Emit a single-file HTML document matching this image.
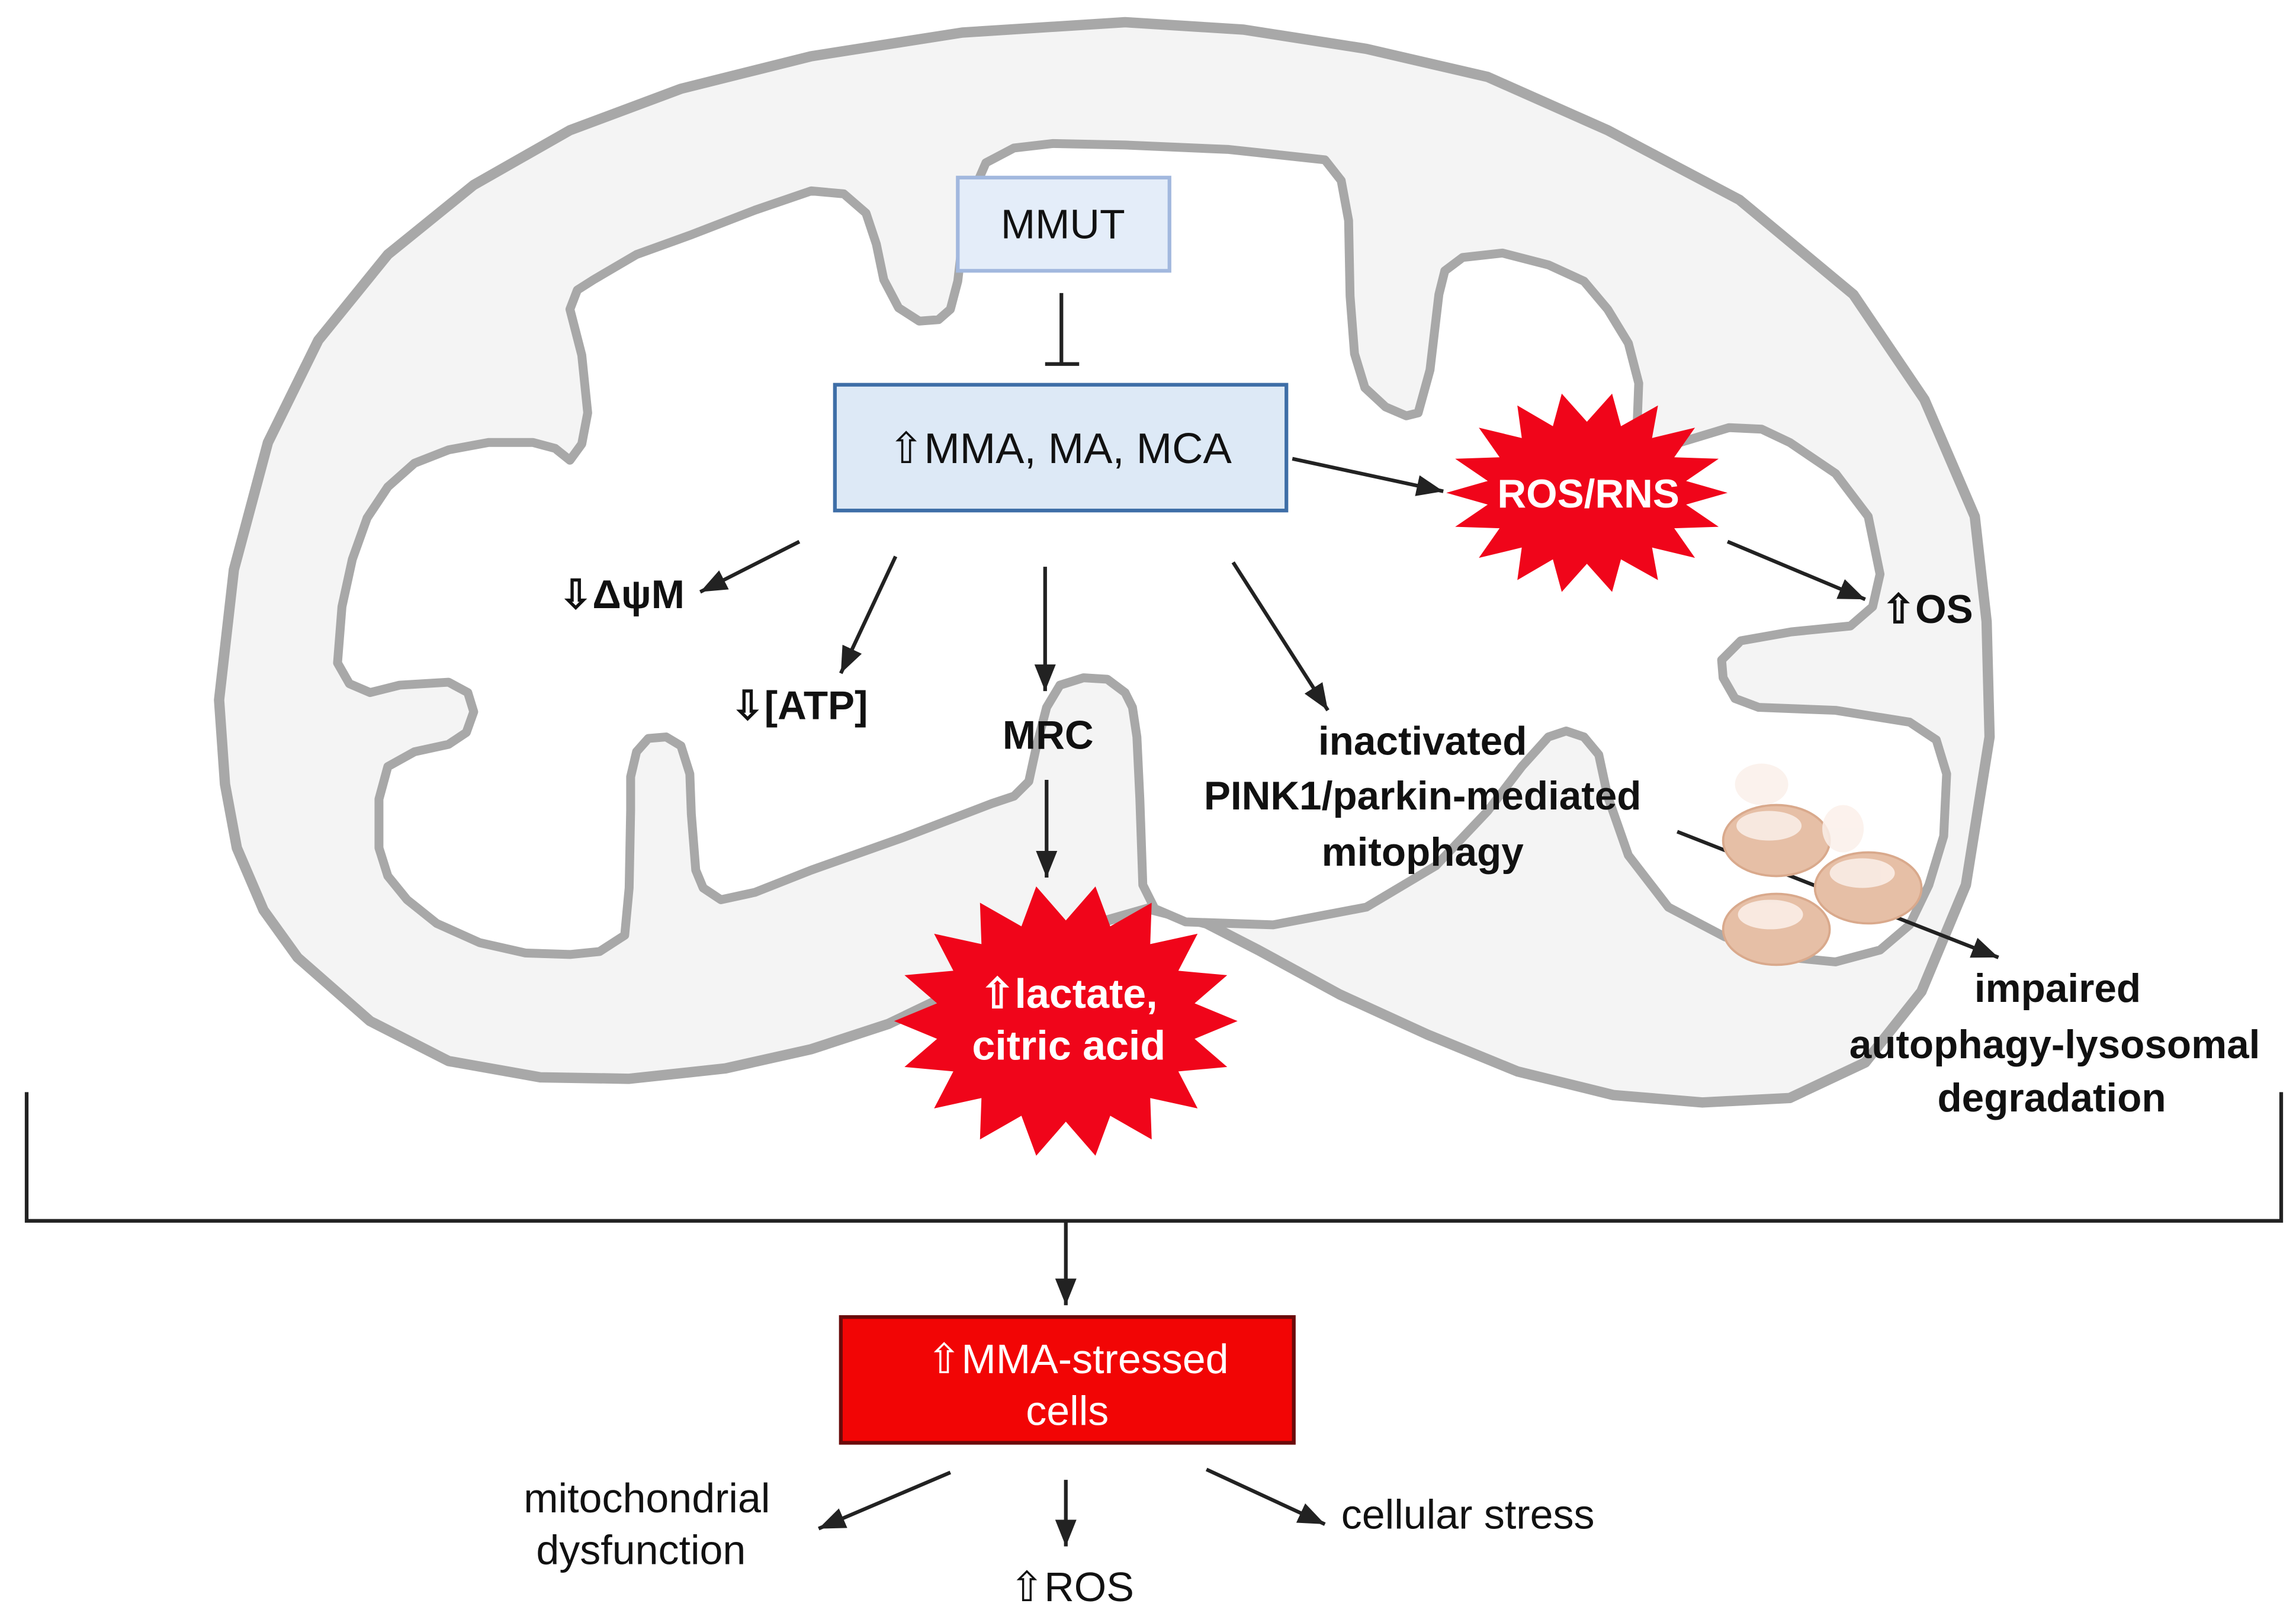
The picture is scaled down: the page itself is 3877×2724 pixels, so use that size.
<!DOCTYPE html>
<html><head><meta charset="utf-8"><style>
html,body{margin:0;padding:0;background:#fff;}
svg{display:block;}
text{font-family:"Liberation Sans",sans-serif;}
</style></head><body>
<svg width="3877" height="2724" viewBox="0 0 1551 1090" preserveAspectRatio="none" xmlns="http://www.w3.org/2000/svg">
<defs>
<marker id="ah" viewBox="0 0 10 10" refX="10" refY="5" markerWidth="18" markerHeight="18" markerUnits="userSpaceOnUse" orient="auto">
<path d="M0,1 L10,5 L0,9 z" fill="#222"/>
</marker>
</defs>
<rect width="1551" height="1090" fill="#fff"/>
<polygon fill="#f4f4f4" stroke="#a8a8a8" stroke-width="7" stroke-linejoin="round" points="148,473 152,530 160,573 178,615 201,647 250,690 303,717 365,728 425,729 490,722 548,709 600,692 650,668 690,645 720,630 776,614 815,624 850,642 905,672 964,699 1025,724 1090,740 1150,745 1209,742 1260,718 1298,670 1328,598 1344,498 1342,420 1334,349 1300,270 1252,199 1175,135 1086,88 1005,52 923,33 840,20 760,15 650,22 548,38 460,60 385,88 320,125 262,172 215,230 181,299 158,385"/>
<polygon fill="#ffffff" stroke="#a8a8a8" stroke-width="6" stroke-linejoin="round" points="228,448 231,410 238,378 248,350 262,329 280,313 303,304 330,299 360,299 375,303 385,311 393,300 397,279 393,240 385,209 390,196 401,189 430,172 466,159 510,142 548,129 570,131 585,144 592,165 597,189 607,208 621,217 634,216 642,209 647,190 650,164 656,133 666,110 685,100 711,97 760,98 830,101 895,108 906,122 911,149 912,200 915,239 922,262 936,275 950,281 958,279 966,250 972,199 976,183 988,174 1015,171 1046,179 1070,190 1086,209 1100,232 1107,259 1106,285 1103,299 1118,302 1135,299 1168,289 1190,290 1209,299 1240,320 1262,349 1270,388 1265,410 1250,423 1210,427 1176,433 1163,446 1164,458 1172,472 1188,478 1240,480 1290,488 1308,500 1315,523 1313,565 1303,598 1290,625 1270,642 1240,650 1209,647 1165,633 1127,613 1100,578 1086,538 1080,510 1070,498 1058,494 1046,498 1028,518 1005,548 970,585 923,613 860,625 801,623 780,614 772,598 770,540 768,498 765,478 760,468 748,459 732,458 716,463 707,478 700,505 695,528 685,538 670,543 610,566 548,588 510,603 487,608 475,600 470,588 467,550 466,523 460,504 450,498 438,499 430,508 426,525 426,548 425,600 422,632 405,643 385,645 355,644 324,637 295,624 275,608 262,592 256,573 256,540 262,518 280,508 303,503 315,495 320,481 316,468 303,461 270,463 250,468 236,462"/>

<!-- MMUT -->
<rect x="647" y="120" width="143" height="63" fill="#e4edf9" stroke="#a2b8de" stroke-width="2.5"/>
<text x="718" y="161" font-size="28" text-anchor="middle" fill="#111">MMUT</text>
<line x1="717" y1="198" x2="717" y2="246" stroke="#222" stroke-width="2.5"/>
<line x1="706" y1="246" x2="729" y2="246" stroke="#222" stroke-width="2.5"/>

<rect x="564" y="260" width="305" height="85" fill="#dde9f6" stroke="#3e6ea7" stroke-width="2.5"/>
<text x="716" y="313" font-size="29" text-anchor="middle" fill="#111">⇧MMA, MA, MCA</text>

<g stroke="#222" stroke-width="2.5" fill="none" marker-end="url(#ah)">
<line x1="540" y1="366" x2="473" y2="400"/>
<line x1="605" y1="376" x2="568" y2="455"/>
<line x1="706" y1="383" x2="706" y2="467"/>
<line x1="833" y1="380" x2="897" y2="480"/>
<line x1="873" y1="310" x2="975" y2="332"/>
<line x1="1167" y1="366" x2="1260" y2="405"/>
<line x1="707" y1="527" x2="707" y2="593"/>
<line x1="1133" y1="562" x2="1350" y2="647"/>
<line x1="720" y1="825" x2="720" y2="882"/>
<line x1="642" y1="995" x2="553" y2="1033"/>
<line x1="720" y1="1000" x2="720" y2="1045"/>
<line x1="815" y1="993" x2="895" y2="1030"/>
</g>

<polygon fill="#f0051a" points="1167,333 1139,341 1161,356 1131,357 1145,377 1116,370 1120,392 1095,378 1089,400 1072,381 1055,400 1049,378 1025,392 1028,370 999,377 1013,357 983,356 1005,341 977,333 1005,325 983,310 1013,309 999,289 1028,296 1025,274 1049,288 1055,266 1072,285 1089,266 1095,288 1120,274 1116,296 1145,289 1131,309 1161,310 1139,325"/>
<polygon fill="#f0051a" points="836,690 807,702 829,721 796,724 809,749 777,742 778,770 750,754 740,781 720,758 700,781 690,754 662,770 663,742 631,749 644,724 611,721 633,702 604,690 633,678 611,659 644,656 631,631 663,638 662,610 690,626 700,599 720,622 740,599 750,626 778,610 777,638 809,631 796,656 829,659 807,678"/>
<text x="1073" y="343" font-size="27" font-weight="bold" text-anchor="middle" fill="#fff">ROS/RNS</text>
<text x="722" y="681" font-size="28" font-weight="bold" text-anchor="middle" fill="#fff">⇧lactate,</text>
<text x="722" y="716" font-size="28" font-weight="bold" text-anchor="middle" fill="#fff">citric acid</text>

<!-- mitochondria icons -->
<g stroke="#d9a98c" stroke-width="1.5" fill="#e6bfa6">
<ellipse cx="1200" cy="568" rx="36" ry="24"/>
<ellipse cx="1262" cy="600" rx="36" ry="24"/>
<ellipse cx="1200" cy="628" rx="36" ry="24"/>
</g>
<g fill="#fbf0ea" opacity="0.85">
<ellipse cx="1195" cy="558" rx="22" ry="10"/>
<ellipse cx="1258" cy="590" rx="22" ry="10"/>
<ellipse cx="1196" cy="618" rx="22" ry="10"/>
<ellipse cx="1190" cy="530" rx="18" ry="14"/>
<ellipse cx="1245" cy="560" rx="14" ry="16"/>
</g>

<g font-size="27" font-weight="bold" fill="#111" text-anchor="middle">
<text x="420" y="411">⇩ΔψM</text>
<text x="540" y="486">⇩[ATP]</text>
<text x="708" y="506">MRC</text>
<text x="961" y="510">inactivated</text>
<text x="961" y="547">PINK1/parkin-mediated</text>
<text x="961" y="585">mitophagy</text>
<text x="1302" y="421">⇧OS</text>
<text x="1390" y="677">impaired</text>
<text x="1388" y="715">autophagy-lysosomal</text>
<text x="1386" y="751">degradation</text>
</g>

<polyline points="18,738 18,825 1541,825 1541,738" fill="none" stroke="#222" stroke-width="2.5"/>

<rect x="568" y="890" width="306" height="85" fill="#f20505" stroke="#6a0a0a" stroke-width="2.5"/>
<text x="728" y="928" font-size="28" text-anchor="middle" fill="#fff">⇧MMA-stressed</text>
<text x="721" y="963" font-size="28" text-anchor="middle" fill="#fff">cells</text>

<g font-size="28" fill="#111">
<text x="437" y="1022" text-anchor="middle">mitochondrial</text>
<text x="433" y="1057" text-anchor="middle">dysfunction</text>
<text x="724" y="1082" text-anchor="middle">⇧ROS</text>
<text x="906" y="1033">cellular stress</text>
</g>
</svg>
</body></html>
